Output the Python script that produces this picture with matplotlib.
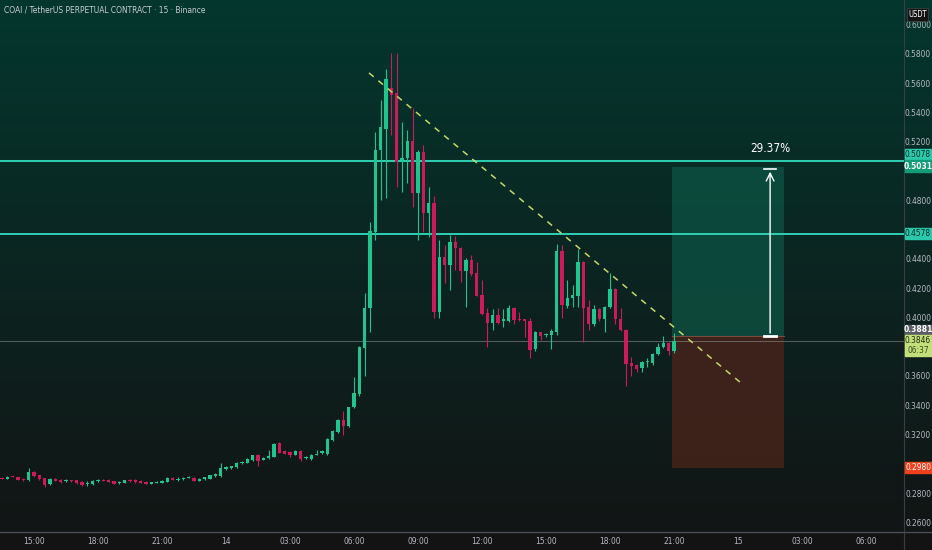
import matplotlib
matplotlib.use("Agg")
import matplotlib.pyplot as plt
import numpy as np
from matplotlib.colors import LinearSegmentedColormap
from matplotlib.patches import Rectangle
import matplotlib.transforms as mtransforms

plt.rcParams['font.family'] = ['DejaVu Sans']
plt.rcParams['font.stretch'] = 'condensed'

# 15m candles, first one at 13:30 on the 13th (index -6), last at 21:00 on the 14th
opens = [0.2913, 0.2906, 0.2922, 0.2915, 0.2906, 0.2897, 0.2953, 0.2929, 0.2908, 0.2867,
         0.2906, 0.2899, 0.2886, 0.2895, 0.2895, 0.2883, 0.2872, 0.2867, 0.2886, 0.2897,
         0.2897, 0.2888, 0.2874, 0.2876, 0.2897, 0.2897, 0.2892, 0.2885, 0.2872, 0.2876,
         0.2878, 0.2883, 0.2913, 0.2899, 0.2902, 0.2911, 0.2913, 0.2890, 0.2902, 0.2906,
         0.2922, 0.2924, 0.2970, 0.2976, 0.2985, 0.3011, 0.3015, 0.3033, 0.3065, 0.3036,
         0.3045, 0.3054, 0.3149, 0.3094, 0.3090, 0.3070, 0.3094, 0.3047, 0.3038, 0.3070,
         0.3083, 0.3072, 0.3167, 0.3222, 0.3304, 0.3263, 0.3393, 0.3481, 0.3795, 0.4068,
         0.4593, 0.5152, 0.5295, 0.5575, 0.5541, 0.5084, 0.5097, 0.5213, 0.4859, 0.5138,
         0.4722, 0.4791, 0.4047, 0.4422, 0.4368, 0.4525, 0.4484, 0.4327, 0.4402, 0.4313,
         0.4163, 0.4034, 0.3972, 0.4020, 0.3979, 0.3979, 0.4074, 0.3999, 0.3993, 0.3979,
         0.3788, 0.3904, 0.3884, 0.3884, 0.3904, 0.4463, 0.4088, 0.4136, 0.4156, 0.4388,
         0.4075, 0.3959, 0.4061, 0.3993, 0.4075, 0.4204, 0.3999, 0.3924, 0.3693, 0.3679,
         0.3659, 0.3699, 0.3693, 0.3754, 0.3802, 0.3829, 0.3774]
highs = [0.2918, 0.2925, 0.2926, 0.2920, 0.2910, 0.2981, 0.2958, 0.2933, 0.2912, 0.2910,
         0.2910, 0.2903, 0.2900, 0.2898, 0.2899, 0.2886, 0.2890, 0.2894, 0.2900, 0.2901,
         0.2901, 0.2891, 0.2886, 0.2899, 0.2901, 0.2900, 0.2895, 0.2888, 0.2884, 0.2889,
         0.2896, 0.2918, 0.2917, 0.2915, 0.2917, 0.2922, 0.2917, 0.2908, 0.2919, 0.2933,
         0.2944, 0.3011, 0.2995, 0.2994, 0.3019, 0.3026, 0.3044, 0.3069, 0.3075, 0.3053,
         0.3099, 0.3150, 0.3153, 0.3098, 0.3094, 0.3101, 0.3098, 0.3060, 0.3071, 0.3104,
         0.3100, 0.3180, 0.3235, 0.3310, 0.3365, 0.3398, 0.3597, 0.3810, 0.4175, 0.4661,
         0.5275, 0.5493, 0.5704, 0.5814, 0.5814, 0.5343, 0.5288, 0.5438, 0.5152, 0.5186,
         0.4900, 0.4838, 0.4538, 0.4504, 0.4572, 0.4566, 0.4490, 0.4410, 0.4436, 0.4388,
         0.4265, 0.4074, 0.4061, 0.4074, 0.4061, 0.4095, 0.4080, 0.4047, 0.3999, 0.4006,
         0.3917, 0.3910, 0.3900, 0.3931, 0.4511, 0.4504, 0.4265, 0.4231, 0.4477, 0.4395,
         0.4129, 0.4095, 0.4068, 0.4088, 0.4313, 0.4211, 0.4074, 0.3931, 0.3733, 0.3690,
         0.3710, 0.3727, 0.3765, 0.3829, 0.3877, 0.3836, 0.3897]
lows = [0.2900, 0.2900, 0.2914, 0.2895, 0.2892, 0.2890, 0.2920, 0.2896, 0.2850, 0.2862,
        0.2886, 0.2879, 0.2882, 0.2885, 0.2872, 0.2855, 0.2855, 0.2862, 0.2882, 0.2887,
        0.2880, 0.2868, 0.2870, 0.2873, 0.2885, 0.2879, 0.2873, 0.2866, 0.2868, 0.2873,
        0.2875, 0.2880, 0.2895, 0.2890, 0.2899, 0.2908, 0.2886, 0.2887, 0.2899, 0.2903,
        0.2919, 0.2920, 0.2965, 0.2972, 0.2981, 0.3007, 0.3011, 0.3029, 0.2995, 0.3032,
        0.3041, 0.3050, 0.3079, 0.3073, 0.3050, 0.3066, 0.3025, 0.3040, 0.3034, 0.3066,
        0.3076, 0.3068, 0.3163, 0.3218, 0.3202, 0.3258, 0.3388, 0.3470, 0.3604, 0.3904,
        0.4538, 0.4811, 0.4825, 0.5254, 0.4900, 0.4866, 0.4927, 0.4763, 0.4538, 0.4593,
        0.4559, 0.4006, 0.4006, 0.4245, 0.4197, 0.4334, 0.4252, 0.4081, 0.4290, 0.4150,
        0.4020, 0.3808, 0.3924, 0.3965, 0.3938, 0.3975, 0.3959, 0.3980, 0.3870, 0.3727,
        0.3780, 0.3850, 0.3870, 0.3788, 0.3884, 0.4006, 0.4074, 0.4081, 0.4081, 0.3836,
        0.3924, 0.3950, 0.3979, 0.3904, 0.4068, 0.3959, 0.3917, 0.3536, 0.3604, 0.3631,
        0.3631, 0.3665, 0.3679, 0.3747, 0.3795, 0.3747, 0.3765]
closes = [0.2906, 0.2920, 0.2918, 0.2899, 0.2897, 0.2951, 0.2924, 0.2901, 0.2860, 0.2906,
          0.2890, 0.2883, 0.2897, 0.2888, 0.2876, 0.2862, 0.2879, 0.2890, 0.2897, 0.2890,
          0.2883, 0.2872, 0.2883, 0.2895, 0.2888, 0.2883, 0.2876, 0.2871, 0.2880, 0.2885,
          0.2892, 0.2913, 0.2899, 0.2906, 0.2913, 0.2918, 0.2890, 0.2904, 0.2915, 0.2929,
          0.2940, 0.2976, 0.2983, 0.2990, 0.3015, 0.3022, 0.3040, 0.3065, 0.3029, 0.3049,
          0.3058, 0.3145, 0.3083, 0.3077, 0.3067, 0.3097, 0.3038, 0.3052, 0.3067, 0.3077,
          0.3092, 0.3174, 0.3229, 0.3304, 0.3263, 0.3393, 0.3488, 0.3802, 0.4068, 0.4600,
          0.5152, 0.5309, 0.5636, 0.5527, 0.5070, 0.5097, 0.5213, 0.4859, 0.5138, 0.4722,
          0.4791, 0.4047, 0.4422, 0.4368, 0.4525, 0.4484, 0.4327, 0.4402, 0.4306, 0.4156,
          0.4027, 0.3972, 0.4020, 0.3972, 0.3993, 0.4074, 0.3986, 0.3986, 0.3979, 0.3781,
          0.3904, 0.3877, 0.3891, 0.3911, 0.4463, 0.4095, 0.4136, 0.4163, 0.4388, 0.4068,
          0.3959, 0.4061, 0.3993, 0.4081, 0.4204, 0.3999, 0.3924, 0.3686, 0.3672, 0.3652,
          0.3699, 0.3706, 0.3754, 0.3802, 0.3829, 0.3774, 0.3846]
first_idx = -6

# ticks that are hidden behind the price tags are left out
price_ticks = [0.26, 0.28, 0.32, 0.34, 0.36, 0.40, 0.42, 0.44,
               0.48, 0.52, 0.54, 0.56, 0.58, 0.60]
time_labels = ['15:00', '18:00', '21:00', '14', '03:00', '06:00', '09:00', '12:00',
               '15:00', '18:00', '21:00', '15', '03:00', '06:00']
levels = [0.5078, 0.4578]
entry, target, stop = 0.3881, 0.5031, 0.2980
last_price = 0.3846
trend_x = [62.8, 132.9]
trend_y = [0.5677, 0.3548]

UP = '#22c48e'
DOWN = '#cc1b5b'
TXT = '#b7bac2'
YMIN, YMAX = 0.2541, 0.6175
XMIN, XMAX = -6.375, 163.1

fig = plt.figure(figsize=(9.32, 5.5), dpi=100)

# background gradient
bg = fig.add_axes([0, 0, 1, 1], zorder=-10)
cmap = LinearSegmentedColormap.from_list('bg', [(0, '#03372e'), (0.45, '#0b2622'), (1, '#121414')])
grad = np.linspace(0, 1, 256).reshape(-1, 1)
bg.imshow(grad, aspect='auto', cmap=cmap, extent=[0, 1, 0, 1], origin='upper')
bg.add_patch(Rectangle((0, 0), 1, 18 / 550, color='#131313', zorder=2))
bg.axvline(904 / 932, color='#3a3d44', lw=0.8)
bg.axhline(18 / 550, color='#4a4d55', lw=1.0)
bg.set_xlim(0, 1)
bg.set_ylim(0, 1)
bg.axis('off')

ax = fig.add_axes([0, 18 / 550, 904 / 932, 532 / 550])
ax.set_facecolor('none')
ax.set_xlim(XMIN, XMAX)
ax.set_ylim(YMIN, YMAX)
for s in ax.spines.values():
    s.set_visible(False)
ax.set_xticks([])
ax.set_yticks([])

o = np.array(opens)
h = np.array(highs)
l = np.array(lows)
c = np.array(closes)
idx = np.arange(len(o)) + first_idx
colors = np.where(c >= o, UP, DOWN)

ax.vlines(idx, l, h, colors=colors, lw=0.8, zorder=3)
body = np.maximum(np.abs(c - o), 0.0004)
ax.bar(idx, body, bottom=np.minimum(o, c), width=0.62, color=colors, zorder=4, linewidth=0)

# horizontal levels
for lv in levels:
    ax.axhline(lv, color='#2fd1b4', lw=1.4, zorder=2)
ax.axhline(last_price, color='#8a8f8a', lw=0.6, alpha=0.7, zorder=2)

# trend line
ax.plot(trend_x, trend_y, color='#c5d86a', lw=1.1, ls=(0, (4, 4)), zorder=5)

# long position tool
x0, x1 = 119.6, 140.6
ax.add_patch(Rectangle((x0, entry), x1 - x0, target - entry, color='#0c5444', alpha=0.75, zorder=1, lw=0))
ax.add_patch(Rectangle((x0, stop), x1 - x0, entry - stop, color='#42231a', alpha=0.9, zorder=1, lw=0))
ax.plot([x0, x1], [entry, entry], color='#7a4b3a', lw=0.8, zorder=2)
ar_x = 138.0
ax.annotate('', xy=(ar_x, target - 0.001), xytext=(ar_x, entry),
            arrowprops=dict(arrowstyle='->', color='white', lw=1.0, mutation_scale=14), zorder=6)
ax.plot([ar_x - 1.1, ar_x + 1.1], [target - 0.0008] * 2, color='white', lw=1.2, zorder=6)
ax.plot([ar_x - 1.1, ar_x + 1.1], [entry] * 2, color='white', lw=2.0, zorder=6)
ax.text(ar_x, 0.5159, '29.37%', color='white', fontsize=8.5, ha='center', va='center', zorder=6)

# title
ax.text(4 / 904, 1 - 10 / 532, 'COAI / TetherUS PERPETUAL CONTRACT \u00b7 15 \u00b7 Binance',
        transform=ax.transAxes, color='#c9ccd2', fontsize=6, ha='left', va='center')

# price scale
trans = mtransforms.blended_transform_factory(ax.transAxes, ax.transData)
lab_x = 1 + 14 / 904
for p in price_ticks:
    ax.text(lab_x, p, f'{p:.4f}', transform=trans, color=TXT, fontsize=6, ha='center',
            va='center', clip_on=False, zorder=3)

TAG_W = 27 / 904


def tag(y, text, fc, tc, bold=False, h=0.0072):
    ax.add_patch(Rectangle((1 + 1 / 904, y - h / 2), TAG_W, h, transform=trans, color=fc,
                           clip_on=False, zorder=8))
    ax.text(lab_x, y, text, transform=trans, color=tc, fontsize=6, ha='center', va='center',
            clip_on=False, zorder=9, fontweight='bold' if bold else 'normal')


tag(0.5118, '0.5078', '#2bc9ab', '#0d2b26')
tag(0.5040, '0.5031', '#139c78', 'white', bold=True, h=0.0080)
tag(0.4579, '0.4578', '#2bc9ab', '#0d2b26')
tag(0.3922, '0.3881', '#5a5d63', 'white', bold=True, h=0.0060)
ax.add_patch(Rectangle((1 + 1 / 904, 0.3745), TAG_W, 0.0144, transform=trans, color='#c2df7a',
                       clip_on=False, zorder=8))
ax.text(lab_x, 0.3846, '0.3846', transform=trans, color='#1f2a10', fontsize=6, ha='center',
        va='center', clip_on=False, zorder=9)
ax.text(lab_x, 0.3780, '06:37', transform=trans, color='#3a4a20', fontsize=6, ha='center',
        va='center', clip_on=False, zorder=9)
tag(0.2983, '0.2980', '#f0401c', 'white')
ax.add_patch(Rectangle((1 + 3 / 904, 0.6032), 21 / 904, 0.0090, transform=trans, color='#141414',
                       ec='#444', lw=0.5, clip_on=False, zorder=8))
ax.text(lab_x, 0.6077, 'USDT', transform=trans, color='white', fontsize=5.5, ha='center',
        va='center', clip_on=False, zorder=9)

# time scale
for k, t in enumerate(time_labels):
    ax.text(12 * k, YMIN - 0.0063, t, color=TXT, fontsize=6, ha='center',
            va='center', clip_on=False)

fig.savefig('out.png', dpi=100)
